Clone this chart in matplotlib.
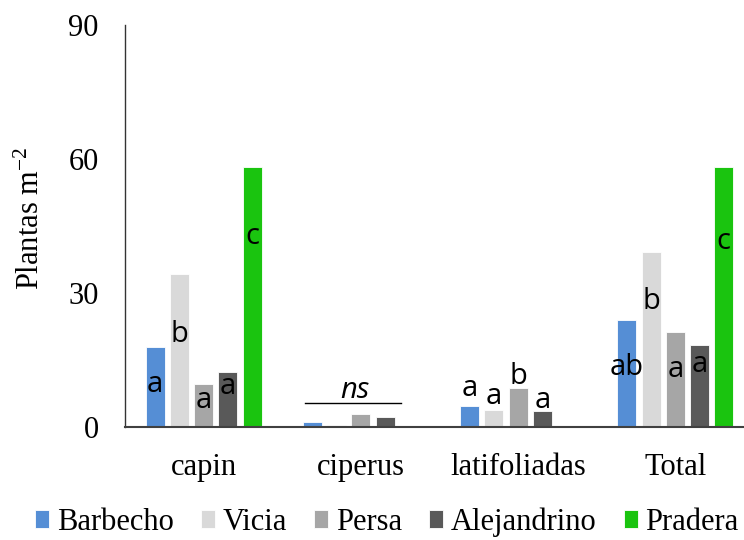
import numpy as np
import matplotlib.pyplot as plt

plt.rcParams['font.family'] = ['Liberation Serif', 'DejaVu Serif']
plt.rcParams['mathtext.fontset'] = 'custom'
plt.rcParams['mathtext.rm'] = 'Liberation Serif'
plt.rcParams['mathtext.it'] = 'Liberation Serif:italic'

# weed density per group (plantas m-2)
categories = ['capin', 'ciperus', 'latifoliadas', 'Total']
treatments = ['Barbecho', 'Vicia', 'Persa', 'Alejandrino', 'Pradera']
barbecho = [18.0, 1.1, 4.8, 24.0]
vicia = [34.2, 0.4, 3.8, 39.1]
persa = [9.7, 2.8, 8.7, 21.3]
alejandrino = [12.4, 2.2, 3.5, 18.3]
pradera = [58.3, 0.0, 0.0, 58.3]
series = [barbecho, vicia, persa, alejandrino, pradera]
colors = ['#558ED5', '#D9D9D9', '#A6A6A6', '#595959', '#1AC40F']

# significance letters and the height they sit at (None = no letter)
letters = [
    ['a', None, 'a', 'ab'],
    ['b', None, 'a', 'b'],
    ['a', None, 'b', 'a'],
    ['a', None, 'a', 'a'],
    ['c', None, None, 'c'],
]
letter_y = [
    [9.4, 0, 8.7, 13.4],
    [20.8, 0, 6.9, 28.1],
    [5.9, 0, 11.3, 12.9],
    [9.0, 0, 5.9, 14.0],
    [42.6, 0, 0, 41.5],
]

sans = ['Open Sans', 'DejaVu Sans']

fig = plt.figure(figsize=(7.44, 5.4), dpi=100)
ax = fig.add_axes([0.168, 0.2093, 0.8454, 0.7444])

x = np.arange(len(categories))
step = 0.154
width = 0.121
handles = []
for i, (vals, col) in enumerate(zip(series, colors)):
    pos = x + (i - 2) * step
    b = ax.bar(pos, vals, width, color=col, edgecolor='white', linewidth=0.6,
               label=treatments[i])
    handles.append(b)
    for j, lab in enumerate(letters[i]):
        if lab:
            ax.text(pos[j], letter_y[i][j], lab, ha='center', va='center',
                    fontsize=21, family=sans, color='black')

# ciperus: no significant differences
ax.plot([1 - 0.355, 1 + 0.254], [5.4, 5.4], color='black', lw=1)
ax.text(1 - 0.037, 8.2, 'ns', ha='center', va='center', fontsize=21,
        family=sans, style='italic')

ax.set_xlim(-0.5, 3.5)
ax.set_ylim(0, 90)
ax.set_yticks([0, 30, 60, 90])
ax.set_xticks(x)
ax.set_xticklabels(categories)
ax.tick_params(axis='both', length=0, labelsize=22)
ax.tick_params(axis='y', pad=19)
ax.tick_params(axis='x', pad=19)

for side in ['top', 'right']:
    ax.spines[side].set_visible(False)
ax.spines['left'].set_color('#333333')
ax.spines['left'].set_linewidth(1.0)
ax.spines['bottom'].set_color('#404040')
ax.spines['bottom'].set_linewidth(1.5)

ax.set_ylabel('Plantas m$^{-2}$', fontsize=22)
ax.yaxis.set_label_coords(-0.125, 0.52)

fig.legend(handles=handles, loc='center', bbox_to_anchor=(0.52, 0.033),
           ncol=5, frameon=False, fontsize=22, handlelength=0.45,
           handleheight=0.5, handletextpad=0.25, columnspacing=0.9,
           borderaxespad=0, borderpad=0)

fig.savefig('out.png', dpi=100)
